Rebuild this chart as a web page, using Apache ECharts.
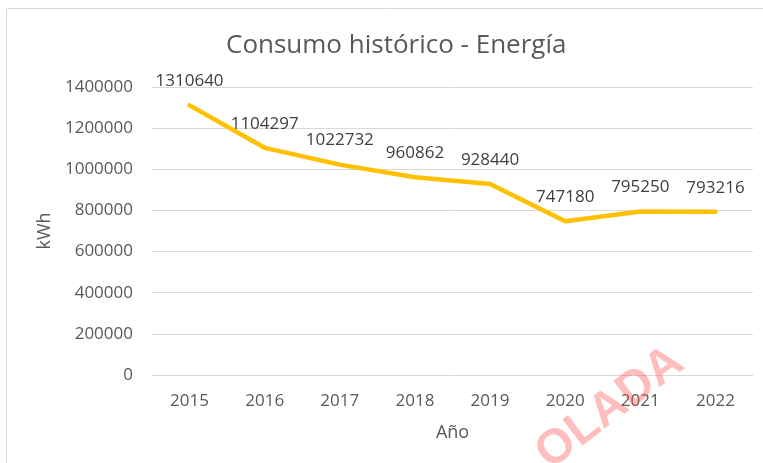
<!DOCTYPE html>
<html>
<head>
<meta charset="utf-8">
<script src="https://cdn.jsdelivr.net/npm/echarts@6/dist/echarts.min.js"></script>
<style>html,body{margin:0;padding:0;background:#fff}#c{width:763px;height:463px}</style>
</head>
<body>
<div id="c"></div>
<script>
const years = ['2015','2016','2017','2018','2019','2020','2021','2022'];
const consumo = [1310640, 1104297, 1022732, 960862, 928440, 747180, 795250, 793216];
const yTicks = [0, 200000, 400000, 600000, 800000, 1000000, 1200000, 1400000];

const FONT = '"Open Sans", sans-serif';
const chart = echarts.init(document.getElementById('c'));
chart.setOption({
  backgroundColor: '#ffffff',
  animation: false,
  title: {
    text: 'Consumo histórico - Energía',
    left: 221, top: 28,
    textStyle: { fontFamily: FONT, fontSize: 26, fontWeight: 'normal', color: '#595959' }
  },
  grid: { left: 152, right: 10, top: 87, bottom: 88 },
  xAxis: {
    type: 'category',
    data: years,
    name: 'Año',
    nameLocation: 'middle',
    nameGap: 49,
    nameTextStyle: { fontFamily: FONT, fontSize: 18, color: '#595959' },
    axisLine: { lineStyle: { color: '#D9D9D9', width: 1 } },
    axisTick: { show: false },
    axisLabel: { fontFamily: FONT, fontSize: 17, color: '#595959', margin: 18 }
  },
  yAxis: {
    type: 'value',
    min: yTicks[0],
    max: yTicks[yTicks.length - 1],
    interval: yTicks[1] - yTicks[0],
    name: 'kWh',
    nameLocation: 'middle',
    nameGap: 95,
    nameRotate: 90,
    nameTextStyle: { fontFamily: FONT, fontSize: 18, color: '#595959' },
    axisLine: { show: false },
    axisTick: { show: false },
    splitLine: { lineStyle: { color: '#D9D9D9', width: 1 } },
    axisLabel: { fontFamily: FONT, fontSize: 17, color: '#595959', margin: 19,
                 formatter: v => String(v) }
  },
  series: [{
    type: 'line',
    data: consumo,
    symbol: 'circle',
    symbolSize: 1,
    itemStyle: { color: '#FFC000' },
    lineStyle: { color: '#FFC000', width: 4.5, cap: 'round', join: 'round' },
    label: {
      show: true, position: 'top', distance: 15,
      fontFamily: FONT, fontSize: 17, color: '#404040'
    }
  }],
  graphic: [
    { type: 'rect', shape: { x: 6.5, y: 8.5, width: 900, height: 600 },
      style: { fill: 'none', stroke: '#D9D9D9', lineWidth: 1 }, silent: true },
    { type: 'text', x: 610, y: 408, rotation: 37 * Math.PI / 180,
      style: { text: 'OLADA', fontFamily: '"Liberation Sans", Arial, sans-serif', fontSize: 48,
               fontWeight: 'bold', fill: 'rgba(255,70,70,0.35)', align: 'center', verticalAlign: 'middle' },
      z: 100, silent: true }
  ]
});
</script>
</body>
</html>
